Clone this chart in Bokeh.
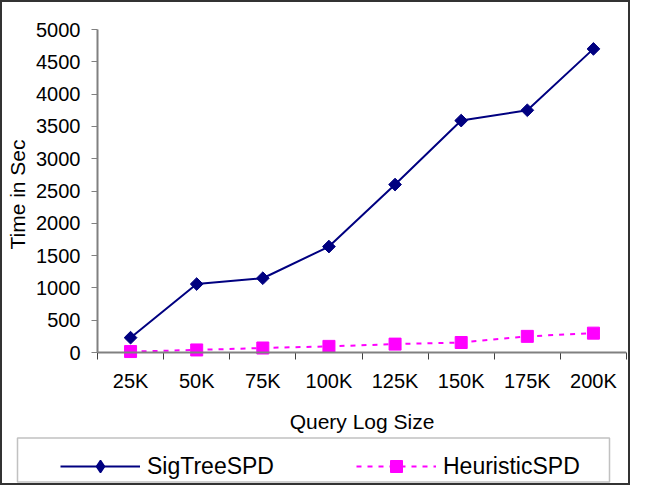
import math
from bokeh.plotting import figure
from bokeh.layouts import column
from bokeh.models import (Range1d, FixedTicker, Legend, LegendItem, Span,
                          BoxAnnotation, ColumnDataSource)
from bokeh.embed import file_html
from bokeh.resources import INLINE

# ---- data ----
categories = ["25K", "50K", "75K", "100K", "125K", "150K", "175K", "200K"]
sigtree_spd = [230, 1060, 1150, 1640, 2600, 3590, 3750, 4700]
heuristic_spd = [15, 40, 70, 95, 130, 155, 250, 300]
y_ticks = [0, 500, 1000, 1500, 2000, 2500, 3000, 3500, 4000, 4500, 5000]

FONT = "Liberation Sans"
NAVY = "#000080"
MAGENTA = "#FF00FF"
AXIS_GRAY = "#808080"
TICK_DARK = "#404040"

n = len(categories)
xpos = [i + 0.5 for i in range(n)]
src = ColumnDataSource(dict(x=xpos, sig=sigtree_spd, heu=heuristic_spd))

W = 626
H_MAIN = 434
H_LEG = 47

# ---------------- main chart ----------------
p = figure(width=W, height=H_MAIN, output_backend="svg", toolbar_location=None,
           x_range=Range1d(0, n), y_range=Range1d(-108, 5000),
           min_border_left=95, min_border_right=2, min_border_top=27,
           min_border_bottom=77, frame_align=False)
p.outline_line_color = None
p.xgrid.visible = False
p.ygrid.visible = False
p.background_fill_color = "white"
p.border_fill_color = "white"

ya = p.yaxis[0]
ya.ticker = FixedTicker(ticks=y_ticks)
ya.bounds = (0, 5000)
ya.axis_line_color = AXIS_GRAY
ya.axis_line_width = 2
ya.major_tick_line_color = AXIS_GRAY
ya.major_tick_out = 6
ya.major_tick_in = 0
ya.minor_tick_line_color = None
ya.major_label_standoff = 11
ya.major_label_text_font = FONT
ya.major_label_text_font_size = "20px"
ya.major_label_text_color = "black"
ya.axis_label = "Time in Sec"
ya.axis_label_text_font = FONT
ya.axis_label_text_font_size = "21px"
ya.axis_label_text_font_style = "normal"
ya.axis_label_text_color = "black"
ya.axis_label_standoff = 4

xa = p.xaxis[0]
xa.ticker = FixedTicker(ticks=xpos, minor_ticks=list(range(n + 1)))
xa.major_label_overrides = {x: c for x, c in zip(xpos, categories)}
xa.axis_line_color = None
xa.major_tick_line_color = None
xa.major_tick_out = 0
xa.major_tick_in = 0
xa.minor_tick_line_color = TICK_DARK
xa.minor_tick_line_width = 1
xa.minor_tick_out = 0
xa.minor_tick_in = 7
xa.major_label_standoff = 10
xa.major_label_text_font = FONT
xa.major_label_text_font_size = "20px"
xa.major_label_text_color = "black"
xa.axis_label = "Query Log Size"
xa.axis_label_text_font = FONT
xa.axis_label_text_font_size = "21px"
xa.axis_label_text_font_style = "normal"
xa.axis_label_text_color = "black"
xa.axis_label_standoff = 15

p.add_layout(Span(location=0, dimension="width", line_color=AXIS_GRAY,
                  line_width=2))

p.line("x", "sig", source=src, line_color=NAVY, line_width=2)
p.scatter("x", "sig", source=src, marker="square", angle=math.pi / 4,
          size=9, fill_color=NAVY, line_color=NAVY)
p.line("x", "heu", source=src, line_color=MAGENTA, line_width=2,
       line_dash="5 6")
p.scatter("x", "heu", source=src, marker="square", size=12,
          fill_color=MAGENTA, line_color=MAGENTA)

# ---------------- legend strip ----------------
lf = figure(width=W, height=H_LEG, output_backend="svg", toolbar_location=None,
            x_range=Range1d(0, n), y_range=Range1d(-2, -1),
            x_axis_location=None, y_axis_location=None,
            min_border_left=0, min_border_right=0, min_border_top=0,
            min_border_bottom=0, frame_align=False)
lf.outline_line_color = None
lf.xgrid.visible = False
lf.ygrid.visible = False
lf.background_fill_color = "white"
lf.border_fill_color = "white"
# legend keys (styled like the series; their data lie outside this strip's range)
g1 = lf.line("x", "sig", source=src, line_color=NAVY, line_width=2)
g2 = lf.scatter("x", "sig", source=src, marker="diamond", size=12,
                fill_color=NAVY, line_color=NAVY, line_width=1.5)
g3 = lf.line("x", "heu", source=src, line_color=MAGENTA, line_width=2,
             line_dash="5 6")
g4 = lf.scatter("x", "heu", source=src, marker="square", size=12,
                fill_color=MAGENTA, line_color=MAGENTA)

lf.add_layout(BoxAnnotation(left=15, right=607, top=H_LEG - 1.5, bottom=1.5,
                            left_units="screen", right_units="screen",
                            top_units="screen", bottom_units="screen",
                            fill_alpha=0, line_color="#333333", line_width=1.5))

legend = Legend(items=[LegendItem(label="SigTreeSPD", renderers=[g1, g2]),
                       LegendItem(label="HeuristicSPD", renderers=[g3, g4])],
                location=(58, 2), orientation="horizontal",
                glyph_width=80, glyph_height=30, label_standoff=7,
                label_width=200, spacing=9, padding=7,
                label_text_font=FONT, label_text_font_size="23px",
                label_text_color="black",
                border_line_color=None, background_fill_alpha=0)
lf.add_layout(legend)

layout = column(p, lf, spacing=0,
                styles={"border": "2px solid #333333"})
open("out.html", "w").write(file_html(layout, INLINE))
